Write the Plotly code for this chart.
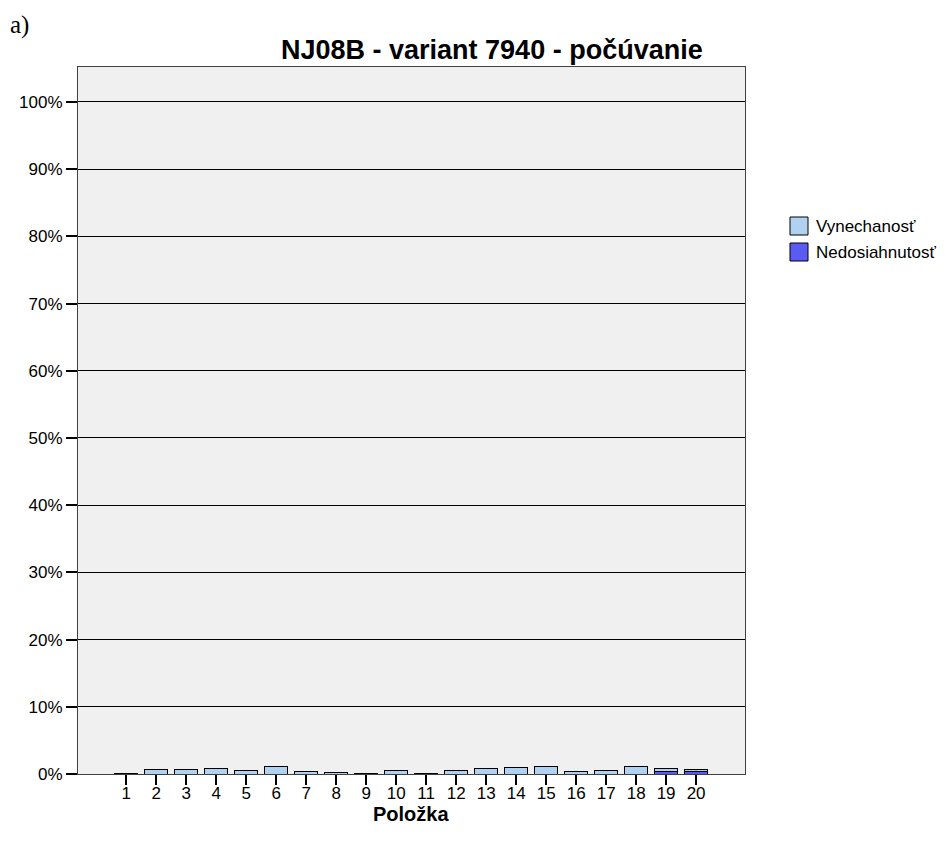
import plotly.graph_objects as go

items = list(range(1, 21))
tick_labels = [str(i) for i in items]
vynechanost = [0.1, 0.6, 0.6, 0.75, 0.5, 1.05, 0.35, 0.25, 0.1, 0.5,
               0.1, 0.5, 0.85, 0.95, 1.15, 0.4, 0.5, 1.1, 0.5, 0.4]
nedosiahnutost = [0, 0, 0, 0, 0, 0, 0, 0, 0, 0,
                  0, 0, 0, 0, 0, 0, 0, 0, 0.3, 0.3]
y_ticks = list(range(0, 101, 10))
y_labels = [f"{v}%" for v in y_ticks]
series_names = ["Vynechanosť", "Nedosiahnutosť"]
series_colors = ["#b0d2f0", "#5a5af5"]

FONT = "Liberation Sans, Arial, sans-serif"

# page body has an 8px margin, so the figure is offset by 8px
OFF = 8
W, H = 945 - OFF, 843 - OFF
L, R, T, B = 78 - OFF, 200, 67 - OFF, 69
PW, PH = W - L - R, H - T - B


def px(x):
    return (x - OFF - L) / PW


def py(y):
    return (H - B - (y - OFF)) / PH


fig = go.Figure()
fig.add_trace(go.Bar(x=items, y=nedosiahnutost, name=series_names[1],
                     marker=dict(color=series_colors[1], line=dict(color="black", width=1)),
                     width=0.78))
fig.add_trace(go.Bar(x=items, y=vynechanost, name=series_names[0],
                     marker=dict(color=series_colors[0], line=dict(color="black", width=1)),
                     width=0.78))

annotations = [
    dict(text="<b>NJ08B - variant 7940 - počúvanie</b>", x=px(492), y=py(50),
         xanchor="center", yanchor="middle", font=dict(size=27, family=FONT)),
    dict(text="a)", x=px(8), y=py(25), xanchor="left", yanchor="middle",
         font=dict(size=25, family="Liberation Serif, Times New Roman, serif")),
    dict(text="<b>Položka</b>", x=px(411), y=py(814), xanchor="center", yanchor="middle",
         font=dict(size=20, family=FONT)),
]
shapes = []
for i, (name, col) in enumerate(zip(series_names, series_colors)):
    y0 = 217 + i * 26
    shapes.append(dict(type="rect", xref="paper", yref="paper",
                       x0=px(790), x1=px(808), y0=py(y0 + 18), y1=py(y0),
                       fillcolor=col, line=dict(color="black", width=1)))
    annotations.append(dict(text=name, x=px(814), y=py(y0 + 9), xanchor="left",
                            yanchor="middle", font=dict(size=17, family=FONT)))
for a in annotations:
    a.update(xref="paper", yref="paper", showarrow=False)

fig.update_layout(
    width=W, height=H,
    barmode="stack",
    paper_bgcolor="white",
    plot_bgcolor="#f0f0f0",
    margin=dict(l=L, r=R, t=T, b=B, autoexpand=False),
    font=dict(family=FONT, size=17, color="black"),
    showlegend=False,
    annotations=annotations,
    shapes=shapes,
)

fig.update_xaxes(range=[-0.61, 21.63], tickvals=items, ticktext=tick_labels,
                 showgrid=False, zeroline=False, showline=True, linecolor="#404040",
                 linewidth=1, mirror=True, ticks="outside", ticklen=10,
                 tickcolor="black", tickwidth=2, tickfont=dict(size=17),
                 ticklabelstandoff=-6)
fig.update_yaxes(range=[0, 105.2], tickvals=y_ticks, ticktext=y_labels,
                 showgrid=True, gridcolor="black", gridwidth=1, zeroline=False,
                 showline=True, linecolor="#404040", linewidth=1, mirror=True,
                 ticks="outside", ticklen=11, tickcolor="black", tickwidth=2,
                 tickfont=dict(size=17))

fig.write_html("out.html")
